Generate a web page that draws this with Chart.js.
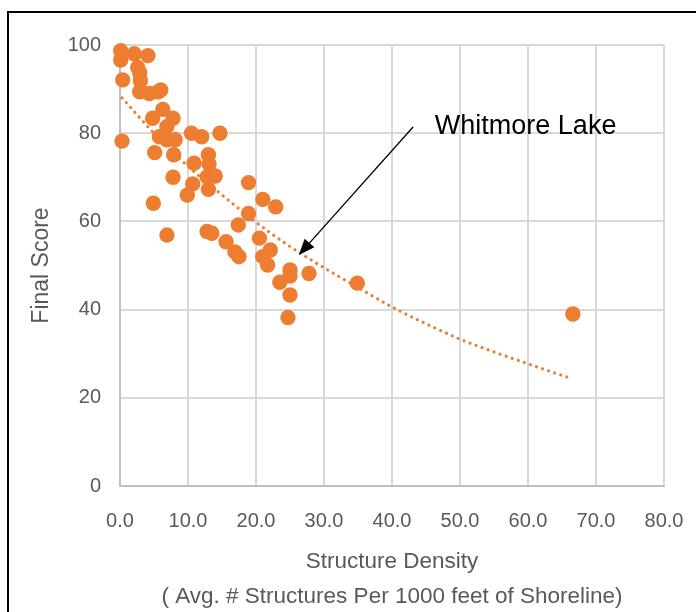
<!DOCTYPE html>
<html><head><meta charset="utf-8">
<script src="https://cdn.jsdelivr.net/npm/chart.js@4.4.0/dist/chart.umd.min.js"></script>
<style>html,body{margin:0;padding:0;background:#fff;overflow:hidden}</style>
</head><body>
<canvas id="c" width="696" height="612" style="display:block;width:696px;height:612px"></canvas>
<script>
// ---- data ----
const densityX = [0.1,0.1,2.1,4.1,0.4,2.6,2.9,3.0,2.9,4.3,5.6,6.0,6.3,4.8,7.8,6.9,5.8,6.9,8.1,0.3,10.5,12.0,14.7,5.1,7.9,13.0,10.9,13.1,7.8,12.8,14.0,18.9,10.7,9.9,13.0,21.0,22.9,4.9,18.9,17.4,6.9,12.8,13.5,15.6,20.5,16.9,17.5,22.1,21.0,21.7,25.0,25.0,23.5,27.8,25.0,24.7,34.9,66.6];
const finalScore = [98.7,96.6,98.0,97.6,92.1,94.9,93.7,91.9,89.4,89.0,89.4,89.8,85.4,83.4,83.4,81.5,79.2,78.5,78.5,78.2,80.0,79.2,80.0,75.6,75.1,75.1,73.2,73.0,70.0,70.1,70.3,68.8,68.5,66.0,67.3,65.0,63.3,64.1,61.8,59.2,56.9,57.7,57.3,55.4,56.2,53.1,52.0,53.5,52.0,50.1,49.0,47.6,46.2,48.2,43.3,38.2,46.0,39.0];
const trendX = [0.3,5,10,15,20,25,30,35,40,45,50,55,60,66.5];
const trendY = [88,80,72.5,66,59.8,54.3,49.5,45,40.6,36.8,33.3,30.4,27.7,24.3];
const xTicks = [0,10,20,30,40,50,60,70,80];
const yTicks = [0,20,40,60,80,100];
const xTitle = ['Structure Density','( Avg. # Structures Per 1000 feet of Shoreline)'];
const yTitle = 'Final Score';
const annotationText = 'Whitmore Lake';

const FONT = '"Liberation Sans", Arial, sans-serif';
const ORANGE = '#ED7D31';

const frame = {
  id: 'frame',
  beforeDraw(chart) {
    const ctx = chart.ctx;
    ctx.save();
    ctx.fillStyle = '#fff';
    ctx.fillRect(0, 0, chart.width, chart.height);
    ctx.fillStyle = '#000';
    ctx.fillRect(7, 11, chart.width, 2);
    ctx.fillRect(7, 11, 2, chart.height);
    ctx.restore();
  }
};

const annot = {
  id: 'annot',
  afterDraw(chart) {
    const {ctx, scales: {x, y}} = chart;
    const x1 = x.getPixelForValue(43.1), y1 = y.getPixelForValue(81.4);
    const x2 = x.getPixelForValue(26.3), y2 = y.getPixelForValue(52.4);
    const ang = Math.atan2(y2 - y1, x2 - x1);
    const L = 16, W = 6.5;
    ctx.save();
    ctx.strokeStyle = '#000';
    ctx.fillStyle = '#000';
    ctx.lineWidth = 1.3;
    ctx.beginPath();
    ctx.moveTo(x1, y1);
    ctx.lineTo(x2 - Math.cos(ang) * L * 0.8, y2 - Math.sin(ang) * L * 0.8);
    ctx.stroke();
    const bx = x2 - Math.cos(ang) * L, by = y2 - Math.sin(ang) * L;
    ctx.beginPath();
    ctx.moveTo(x2, y2);
    ctx.lineTo(bx + Math.sin(ang) * W, by - Math.cos(ang) * W);
    ctx.lineTo(bx - Math.sin(ang) * W, by + Math.cos(ang) * W);
    ctx.closePath();
    ctx.fill();
    ctx.font = '27px ' + FONT;
    ctx.textBaseline = 'middle';
    ctx.textAlign = 'left';
    ctx.fillText(annotationText, x.getPixelForValue(46.3), y.getPixelForValue(81.6));
    ctx.restore();
  }
};

new Chart(document.getElementById('c'), {
  type: 'scatter',
  data: {
    datasets: [
      {
        type: 'scatter',
        label: 'Final Score',
        data: densityX.map((v, i) => ({x: v, y: finalScore[i]})),
        backgroundColor: ORANGE,
        borderColor: ORANGE,
        borderWidth: 0,
        pointRadius: 7.7,
        pointHoverRadius: 7.7,
        clip: false,
        order: 1
      },
      {
        type: 'line',
        label: 'Trend',
        data: trendX.map((v, i) => ({x: v, y: trendY[i]})),
        borderColor: ORANGE,
        borderWidth: 3.2,
        borderDash: [0.01, 6.4],
        borderCapStyle: 'round',
        pointRadius: 0,
        fill: false,
        cubicInterpolationMode: 'monotone',
        clip: false,
        order: 0
      }
    ]
  },
  options: {
    responsive: false,
    animation: false,
    events: [],
    layout: {padding: {left: 0, top: 45, right: 32, bottom: 0}},
    plugins: {legend: {display: false}, tooltip: {enabled: false}},
    scales: {
      x: {
        type: 'linear', min: 0, max: 80,
        afterBuildTicks(s) { s.ticks = xTicks.map(v => ({value: v})); },
        afterFit(s) { s.height = 126; s.paddingRight = 0; s.paddingLeft = 0; },
        grid: {color: '#D9D9D9', lineWidth: 2, drawTicks: false},
        border: {color: '#BFBFBF', width: 2},
        ticks: {padding: 23, color: '#595959', font: {family: FONT, size: 20},
          callback: v => Number(v).toFixed(1), maxRotation: 0, autoSkip: false},
        title: {display: true, text: xTitle, color: '#595959',
          font: {family: FONT, size: 22.5, lineHeight: 1.55}, padding: {top: 0, bottom: -2}}
      },
      y: {
        type: 'linear', min: 0, max: 100,
        afterBuildTicks(s) { s.ticks = yTicks.map(v => ({value: v})); },
        afterFit(s) { s.width = 120; },
        grid: {color: '#D9D9D9', lineWidth: 2, drawTicks: false},
        border: {color: '#BFBFBF', width: 2},
        ticks: {padding: 19, color: '#595959', font: {family: FONT, size: 20}},
        title: {display: true, text: yTitle, color: '#595959',
          font: {family: FONT, size: 23, lineHeight: 1.2}, padding: {top: 28, bottom: 0}}
      }
    }
  },
  plugins: [frame, annot]
});
</script>
</body></html>
